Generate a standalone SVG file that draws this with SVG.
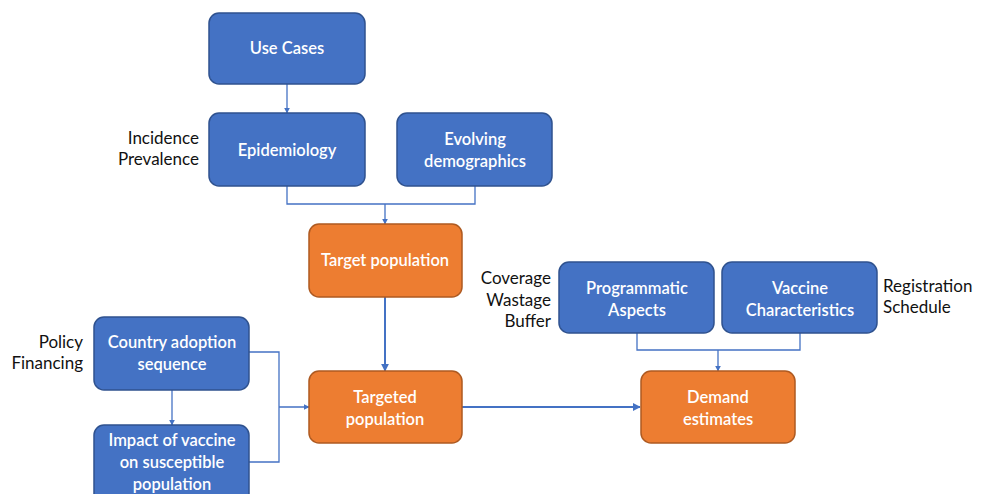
<svg xmlns="http://www.w3.org/2000/svg" width="985" height="494" viewBox="0 0 985 494">
<style>
.b{fill:#4472C4;stroke:#2F528F;stroke-width:1.5}
.o{fill:#ED7D31;stroke:#AE5A21;stroke-width:1.5}
.t{font-family:Lato,"Open Sans",sans-serif;font-size:16.5px;font-weight:600;fill:#fff;text-anchor:middle}
.l{font-family:Lato,"Open Sans",sans-serif;font-size:17px;fill:#111}
.c{fill:none;stroke:#4472C4;stroke-width:1.3}
.c2{fill:none;stroke:#4472C4;stroke-width:2}
</style>
<defs>
<marker id="a" viewBox="0 0 10 10" refX="9" refY="5" markerWidth="6" markerHeight="6" markerUnits="userSpaceOnUse" orient="auto"><path d="M0,0L10,5L0,10z" fill="#4472C4"/></marker>
<marker id="a2" viewBox="0 0 10 10" refX="9" refY="5" markerWidth="8" markerHeight="8" markerUnits="userSpaceOnUse" orient="auto"><path d="M0,0L10,5L0,10z" fill="#4472C4"/></marker>
</defs>
<g id="connectors">
<path class="c" d="M287,84V113" marker-end="url(#a)"/>
<path class="c" d="M287,186V204H475V186M385,204V224" marker-end="url(#a)"/>
<path class="c2" d="M385,297V371" marker-end="url(#a2)"/>
<path class="c" d="M172,390V425" marker-end="url(#a)"/>
<path class="c" d="M249,352H279V462H249M279,407H309" marker-end="url(#a)"/>
<path class="c2" d="M462,407H640" marker-end="url(#a2)"/>
<path class="c" d="M637,333V350H800V333M718,350V371" marker-end="url(#a)"/>
</g>
<g id="use-cases"><rect class="b" x="209" y="13" width="156" height="71" rx="10"/><text class="t" x="287" y="54">Use Cases</text></g>
<g id="epidemiology"><rect class="b" x="209" y="113" width="156" height="73" rx="10"/><text class="t" x="287" y="156">Epidemiology</text>
<text class="l" x="199" y="144" text-anchor="end">Incidence</text><text class="l" x="199" y="165" text-anchor="end">Prevalence</text></g>
<g id="evolving-demographics"><rect class="b" x="397" y="113" width="155" height="73" rx="10"/><text class="t" x="475" y="145">Evolving</text><text class="t" x="475" y="167">demographics</text></g>
<g id="target-population"><rect class="o" x="309" y="224" width="153" height="73" rx="10"/><text class="t" x="385" y="266">Target population</text></g>
<g id="country-adoption"><rect class="b" x="94" y="317" width="155" height="73" rx="10"/><text class="t" x="172" y="348">Country adoption</text><text class="t" x="172" y="370">sequence</text>
<text class="l" x="83" y="348" text-anchor="end">Policy</text><text class="l" x="83" y="369" text-anchor="end">Financing</text></g>
<g id="impact-of-vaccine"><rect class="b" x="94" y="425" width="155" height="80" rx="10"/><text class="t" x="172" y="446">Impact of vaccine</text><text class="t" x="172" y="468">on susceptible</text><text class="t" x="172" y="490">population</text></g>
<g id="targeted-population"><rect class="o" x="309" y="371" width="153" height="72" rx="10"/><text class="t" x="385" y="403">Targeted</text><text class="t" x="385" y="425">population</text></g>
<g id="programmatic-aspects"><rect class="b" x="559" y="262" width="155" height="71" rx="10"/><text class="t" x="637" y="294">Programmatic</text><text class="t" x="637" y="316">Aspects</text>
<text class="l" x="551" y="284" text-anchor="end">Coverage</text><text class="l" x="551" y="306" text-anchor="end">Wastage</text><text class="l" x="551" y="327" text-anchor="end">Buffer</text></g>
<g id="vaccine-characteristics"><rect class="b" x="722" y="262" width="155" height="71" rx="10"/><text class="t" x="800" y="294">Vaccine</text><text class="t" x="800" y="316">Characteristics</text>
<text class="l" x="883" y="292">Registration</text><text class="l" x="883" y="313">Schedule</text></g>
<g id="demand-estimates"><rect class="o" x="641" y="371" width="154" height="72" rx="10"/><text class="t" x="718" y="403">Demand</text><text class="t" x="718" y="425">estimates</text></g>
</svg>
